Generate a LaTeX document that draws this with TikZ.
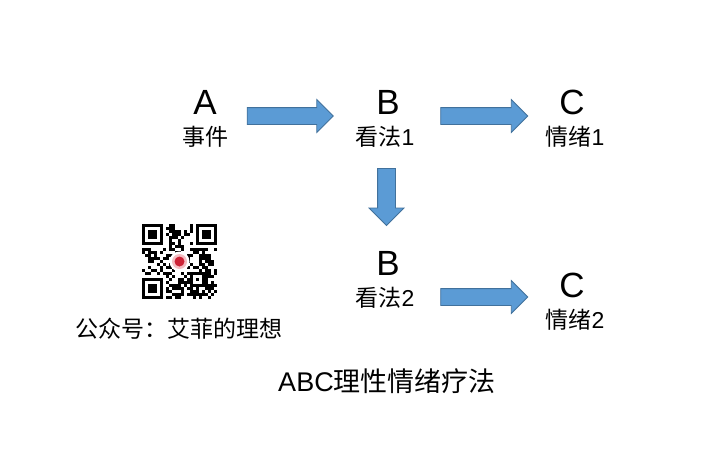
\documentclass[tikz,border=0pt]{standalone}
\usepackage{fontspec}
\setmainfont{Liberation Sans}
\newfontfamily\cjk{Noto Sans CJK SC}
\usetikzlibrary{shapes.arrows}

\definecolor{abcfill}{RGB}{91,155,213}
\definecolor{abcline}{RGB}{65,113,156}
\definecolor{abclogo}{RGB}{205,35,55}
\definecolor{abchalo}{RGB}{245,190,195}

\begin{document}
\begin{tikzpicture}[x=1pt,y=-1pt
                ,blockarrow/.style={single arrow,draw=abcline,fill=abcfill,line width=0.8pt,inner xsep=0pt,inner ysep=8pt,single arrow head extend=8pt,minimum height=#1}
                ,bigletter/.style={inner sep=0pt,font=\fontsize{35}{38}\selectfont}
                ,cjklabel/.style={inner sep=0pt,font=\fontsize{23}{26}\selectfont}
                ,qrdark/.style={fill=black}
            ]
            \useasboundingbox[fill=white] (0,0) rectangle (725,448);
            % letters and their labels
            \node[bigletter] (a) at (205,102) {A};
            \node[cjklabel] (aText) at (205,137) {\cjk 事件};
            \node[bigletter] (b) at (388,102) {B};
            \node[cjklabel] (bText) at (385,137) {{\cjk 看法}1};
            \node[bigletter] (c) at (572,102) {C};
            \node[cjklabel] (cText) at (575,137) {{\cjk 情绪}1};
            \node[bigletter] (bTwo) at (388,263) {B};
            \node[cjklabel] (bTwoText) at (385,298) {{\cjk 看法}2};
            \node[bigletter] (cTwo) at (572,285) {C};
            \node[cjklabel] (cTwoText) at (575,320) {{\cjk 情绪}2};
            % block arrows
            \node[blockarrow=86pt] (ab) at (286,116) {};
            \node[blockarrow=87pt] (bc) at (480,116) {};
            \node[blockarrow=57pt,inner xsep=8.5pt,inner ysep=0pt,single arrow head extend=8.5pt,shape border rotate=270] (bb) at (386.5,192.5) {};
            \node[blockarrow=87pt] (bcTwo) at (480,297) {};
            % qr code
            \pgfmathsetseed{42}
            \foreach \i in {0,...,24}{
              \foreach \j in {0,...,24}{
                \pgfmathrandominteger{\bit}{0}{1}
                \ifnum\bit=1 \fill[qrdark] ({142+3*\i},{224+3*\j}) rectangle ++(3,3); \fi
              }
            }
            \foreach \cx/\cy in {0/0,18/0,0/18}{
              \fill[white] ({142+3*(\cx-1)},{224+3*(\cy-1)}) rectangle ++(27,27);
              \fill[qrdark] ({142+3*\cx},{224+3*\cy}) rectangle ++(21,21);
              \fill[white] ({145+3*\cx},{227+3*\cy}) rectangle ++(15,15);
              \fill[qrdark] ({148+3*\cx},{230+3*\cy}) rectangle ++(9,9);
            }
            \fill[qrdark] (190,272) rectangle ++(15,15);
            \fill[white] (193,275) rectangle ++(9,9);
            \fill[qrdark] (196,278) rectangle ++(3,3);
            \fill[white] (179.5,261.5) circle (10);
            \fill[abchalo] (179.5,261.5) circle (7.5);
            \fill[abclogo] (179.5,261.5) circle (5);
            \node[inner sep=0pt,font=\fontsize{23}{26}\selectfont] (account) at (179,329) {\cjk 公众号：艾菲的理想};
            \node[inner sep=0pt,font=\fontsize{27}{30}\selectfont] (title) at (387,381) {ABC{\cjk 理性情绪疗法}};
        \end{tikzpicture}
\end{document}
